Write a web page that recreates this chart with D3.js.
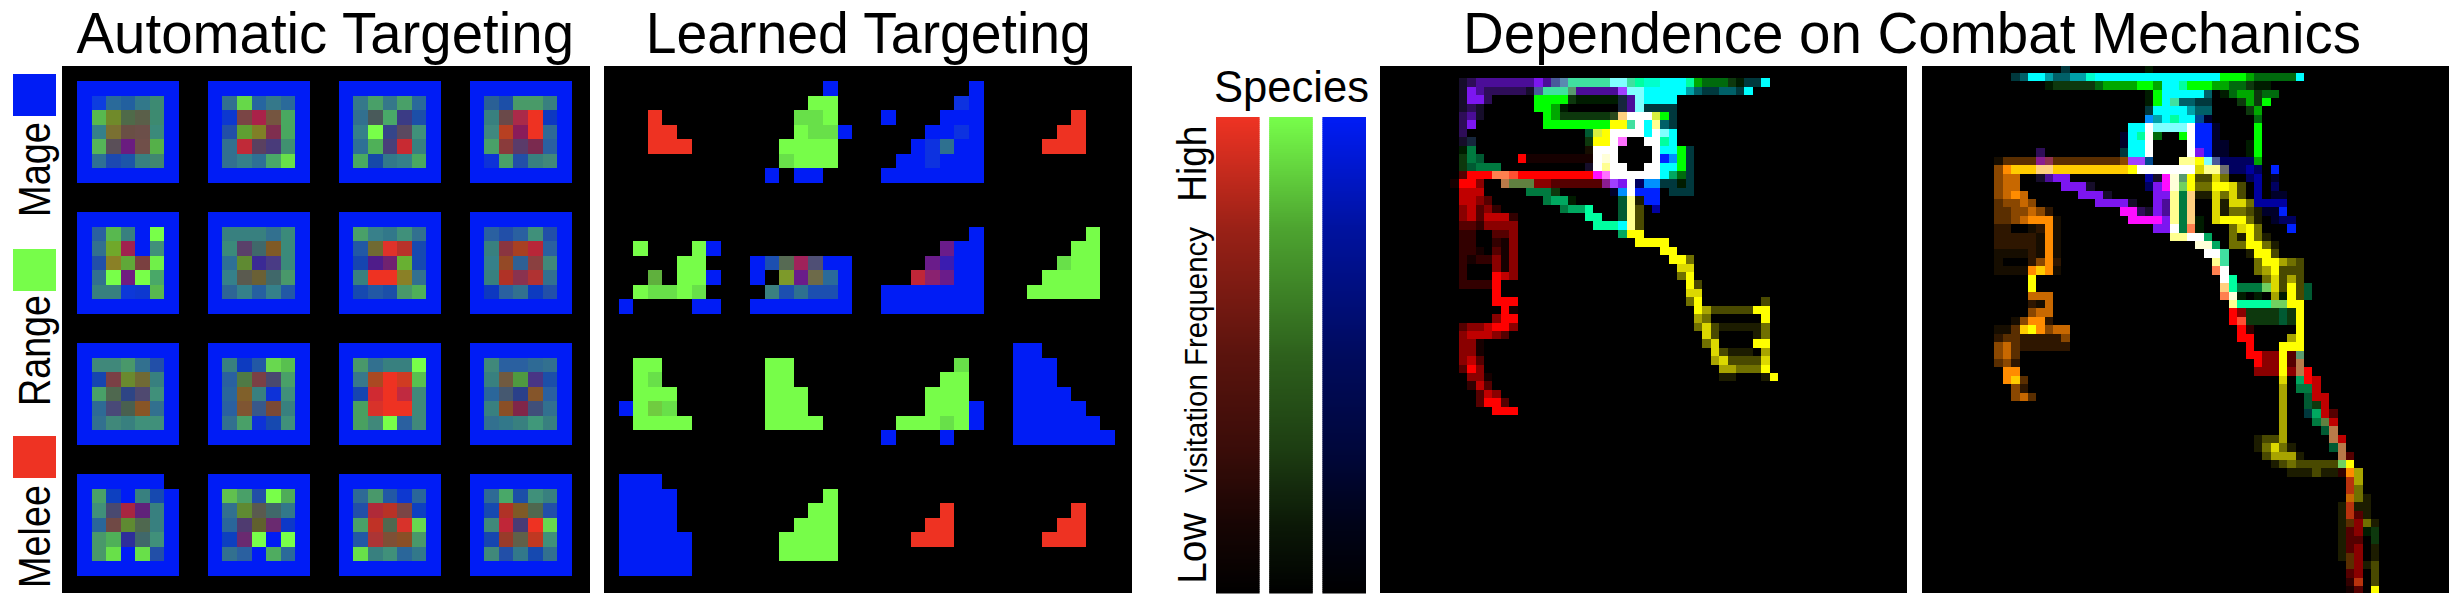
<!DOCTYPE html>
<html>
<head>
<meta charset="utf-8">
<script src="https://cdn.jsdelivr.net/npm/d3@7"></script>
<style>
  body { margin: 0; background: #fff; }
  text { font-family: "Liberation Sans", Arial, sans-serif; fill: #000; }
</style>
</head>
<body>
<svg id="chart" width="2454" height="596"></svg>
<script>
// Species and their colours
const species = ['Mage', 'Range', 'Melee'];
const speciesColors = ['#001cf5', '#77fd4a', '#ee3323'];
const barSpecies = ['Melee', 'Range', 'Mage'];

// Colour bar falloff (0 = top of the bar)
const barStops = [0, 0.23, 0.5, 0.7, 0.85, 1];
const barLevels = [1, 0.65, 0.38, 0.24, 0.1, 0];

// Automatic targeting: inner 5x5 cells of each 7x7 tile, row by row
const autoTiles = [
  '0a3de0 2a6a9a 24609f 33788a 3e8a72 58b850 6f8a2a 4f6a4a 5a5f4a 3e8a70 36808a 7a7030 6a4f45 6c4f48 3a8a7a 55b558 5a5058 6a1a80 70504a 55b048 2f6f95 1c4ab0 1f55a8 38807f 40876f',
  '33708f 66d84a 2866a0 35788a 2a6a9a 0a38d0 7a4545 aa2248 74543f 4aa860 2050a8 5f9f30 807f25 7f2f50 48a85f 30708f c02a38 5a4060 483a7a 40906f 30708f 36808a 2f6f95 48a868 68e048',
  '35788a 48a068 35788a 48a068 2a6a9a 30708f 4a5a5a 48a868 3a3a85 1f50a8 36808a 78ff48 35458a 5a4a60 40907a 2f6f95 50b058 4a3f7a c82a32 38807f 4aaa60 1848a8 33788a 36808a 48a860',
  '2a6095 1f50a8 489a68 489a68 38807f 38807f 6a4a4a aa2a48 ee3323 0f38c0 40887f b84020 8a1f5a ee3323 2f6a95 48a068 8a3a3a 5a3a6a 7a2a50 2a60a0 0a30d8 48a068 2050a8 38807f 40887a',
  '2a60a0 58b850 38807f 001cf5 78ff48 30708f 70a82a a02050 001cf5 40907a 2050a8 8a8025 60a838 7a4040 70f048 30708f 78ff48 701a80 78ff48 48a868 38807f 38807f 0a38d8 0a38d0 58b850',
  '38807f 38807f 38807f 33708f 3a8a7a 3a8a7a 5a3f6a 40686a 7f5a25 3a8a7a 2f6f95 5f8a30 3a2a95 483a85 3a8a7a 36808a 5a5a50 6a6035 40686a 48986a 2f6595 36808a 2860a0 36808a 2458a5',
  '48a068 38808a 33788a 40907a 33708f 2458a5 706a30 e0302a b8302a 1848b0 1844b0 501f8a 702070 68b030 1848b0 38807f ee3323 ee3323 8a8025 30708f 1848b0 2458a5 1f50a8 48986a 50b058',
  '2a60a0 2050a8 2a60a0 40907a 2050a8 38807f 8a3540 a84020 b82838 2a60a0 36808a 944a25 2f6095 8a4040 40887a 38807f b03028 8a3050 b03030 30708f 0f38c0 2a60a0 33708f 0f3ac0 2050a8',
  '40887a 40887a 48986a 33708f 2050a8 1844b0 7a4045 6a8a2f 6f6a35 38807f 48a068 50684f 2f4585 504a70 40907a 2f6a95 4a4a78 4a6050 885525 33708f 33708f 40887a 38807f 40907a 40907a',
  '38807f 0f3ac0 2458a5 68d850 58c050 2a60a0 507a45 7a4045 4a4a70 48a068 2a669a 80602a 38807f 0a30d8 40907a 2a60a0 7f5530 37588a 7a4a35 38807f 33708f 48a068 0a30d8 1848b0 40907a',
  '48986a 33708f 38807f 38807f 78ff48 38788a aa4a20 ee3323 d03a20 58c050 1844b0 d02a30 ee3323 c02a40 40887a 48a060 d8302a ee3323 ee3323 40887a 48a060 40887a 78ff48 2a60a0 40887a',
  '40887a 2a60a0 2a60a0 2f6a95 33708f 38807f 6f5a3f 509a3f 483585 1f50a8 2a669a 45586f 2a3f8a 85552a 2a60a0 38807f 8a5025 80284a 40507a 33708f 33708f 33788a 38807f 40987a 38807f',
  '48a068 1040c0 001cf5 38807f 1848b0 40907a 4a4a70 a8283f 60207a 38807f 2a669a 704a45 5f8a30 50684f 38807f 48986a 50b058 2f2f9a 40686a 40907a 48986a 68e048 001cf5 68e048 2050a8',
  '60c050 48a068 2050a8 78ff48 50ac58 30708f 5f8a30 5a5a50 40686a 33788a 2a669a 4f3a70 60602f 6a2a6f 0a38c8 1040c0 6a2a6f 78ff48 001cf5 78ff48 33708f 2a60a0 001cf5 50ac60 2a6a9a',
  '2f6a95 48986a 2458a5 0a38d0 2a669a 2050a8 b02a38 b83028 7a4545 0f40c0 48a068 c03028 50684f d8302a 68d850 2458a5 ac3535 7f5035 8a5025 48986a 68e048 38807f 40907a 2a669a 33788a',
  '2f6a95 48a868 1f50a8 40907a 38807f 1848b0 b03028 7f5a25 50684f 2050a8 40887a c02838 4a3a75 ee3323 68d850 1844b0 983a2a 60604a c03820 40907a 40887a 2050a8 33788a 1848b0 30708f'
];
// [tile, row, col] of the tile rim cells that stay black
const autoRimGaps = [[12, 0, 6]];

// Learned targeting: whole 36x36 image
const learnedColors = {
  R: '#ee3323', G: '#77fd4a', B: '#001cf5', a: '#68e048', c: '#5fb03c', s: '#70cc40', d: '#0a30e0',
  t: '#2f6f8f', p: '#6a1a8a', e: '#1e4fb0', f: '#566b52', h: '#a0245a', i: '#4f4f75', j: '#3a1ab0',
  k: '#7d9a2a', l: '#6d6a4a', m: '#2a6a9a', n: '#c02838', o: '#8a2070', q: '#3a8080'
};
const learnedRows = [
  '',
  '...............B.........B..........',
  '..............GG........dB..........',
  '...R.........aaG...B...BBB......R...',
  '...RR........GaaB.....BBdB.....RR...',
  '...RRR......GGGG.....BdtBB....RRR...',
  '............aGGG....BBdBBB..........',
  '...........B.BB....BBBBBBB..........',
  '',
  '',
  '',
  '.........................B.......G..',
  '..G...GB...............pBB......GG..',
  '.....GG...BefhiBB.....pjBB.....aGG..',
  '...c.GGB..B.kplmB....nopBB....GGGG..',
  '..GaaGa....qeteeB..BBBBBBB...GGGGG..',
  '.B....BB..BBBBBBB..BBBBBBB..........',
  '',
  '',
  '............................BB......',
  '..GG.......GG...........a...BBB.....',
  '..Ga.......GG..........GG...BBB.....',
  '..GGG......GGG........GGG...BBBB....',
  '.BGsa......GGG........GGGB..BBBBB...',
  '..GGGG.....GGGG.....GGGaGB..BBBBBB..',
  '...................B...B....BBBBBBB.',
  '',
  '',
  '.BBB................................',
  '.BBBB..........G....................',
  '.BBBB.........GG.......R........R...',
  '.BBBB........GGG......RR.......RR...',
  '.BBBBB......GGGG.....RRR......RRR...',
  '.BBBBB......GGGG....................',
  '.BBBBB..............................',
  ''
];

// Combat mechanics: visitation maps, one letter per cell
const visitColors = {
  u: '#16082a', v: '#2e0c58', p: '#4c1098', P: '#7c18f0', i: '#a040ff',
  c: '#00ffff', C: '#80ffff', k: '#00a0a8', d: '#006068', D: '#02383c', j: '#00ffcc',
  g: '#00ff00', G: '#00a800', h: '#006a10', H: '#083808', I: '#031a03',
  s: '#00a860', S: '#005a30', Z: '#007a40', t: '#40e0a0', T: '#00ffa0',
  w: '#ffffff', l: '#ffff90', L: '#ffffd8',
  y: '#ffff00', Y: '#dcd800', o: '#a8a400', O: '#707000', n: '#4a4a00', N: '#1c1c04',
  r: '#ff0000', R: '#c00000', e: '#8a0000', E: '#540000', f: '#300000', F: '#140000', U: '#ff5030',
  b: '#0024ff', B: '#0000a0', a: '#000060', A: '#0090ff', z: '#00002a', '+': '#004a90',
  m: '#ff10ff', M: '#ff70ff',
  x: '#ff8c00', X: '#c86800', W: '#8a4600', q: '#5a2e00', Q: '#2e1800', J: '#160c00',
  K: '#ffcc00', V: '#ffd080', '%': '#b83010',
  0: '#d8f040', 1: '#ff8050', 2: '#b87a48', 3: '#608040', 4: '#8a1a90', 5: '#4a5a9a',
  6: '#5a8ab0', 7: '#5a9a70', 8: '#14283c', 9: '#2a4a1a', '!': '#903050', '&': '#70d060', '#': '#707070'
};

const combatLeftRows = [
  '.uvpppppppPp56tttttCCtTjjcccTGhhhHIDDc',
  '.uPpvvvvvu5ttt7pppppiCCccccckdDDddDc',
  '.uPPv.....ggggHIIIII8pCcccc',
  '.uvu......ggGI......8pCDDDD',
  '.vpu.......gGHHHHHH9Vwww0gD',
  '.vP........ggggggggyytwcldD',
  '.v..............S0ywwwwcwCc',
  '.u8.............HyywM..wwTc',
  '.IZ.............Jwww....wccgD',
  '.HZS....rFFFFFFFFwLw....wbAgD',
  '.HSZZZ..........uwlww..wwccgD',
  '.Errr11UrrrrrrrrrmMwwwwwwcshD',
  'Frre..2333eeEEEEEE4iPwaAADDID',
  '.RRR.....ZZZH......zAwbbb.DDD',
  '.RReE......ZssI.....SlNbb',
  '.eREef.......ZssT...Sln.B',
  '.eRERRRf........TT..Sln',
  '.EEfeeee.........TTTcln',
  '.ff..EEe............syy',
  '.ff..fFe..............yyyy',
  '.ffF.EFe.................yy',
  '.fFffeFe..................yyO',
  '.f...eFe...................YY',
  '.f...rRe...................Oy',
  '.ffffr......................yn',
  '.....r......................YY',
  '.....rrr....................Oy.......n',
  '......rF.....................yonnnnnyy',
  '.....err.....................oO......y',
  '.EeeRrre.....................OYnNNNNNO',
  '.eRRReE.......................Yn....NO',
  '.eeF..........................OY....yy',
  '.eeF...........................YnNNN.o',
  '.eRE...........................oYnnnnY',
  '.Ere............................ooOOOy',
  '..eeF...........................NN...Ny',
  '..fRE',
  '...ERe',
  '...ErrE',
  '.....rrr'
];

const combatRightRows = [
  '........D.........I',
  '..DdcckddkkjcccccccccccccccgggGhhhhhc',
  '......IHHHHHhGGGGggGccTgggGGhhHII',
  '..................Igcccccd.IhGGHhh',
  '..................IgctddDD...HGHg',
  '..................Dcccckdd....HG',
  '..................AkcTcc+z.....h',
  '................ccwCCCCwbbz....g',
  '...............zcTwh..gwbbz....g',
  '...............zccw....wbbzz..Ig',
  '.....v.........Dccw....wPbzz..Ig',
  'Jqqqq4!qqqqqqqqWii+...llyC5aaaaG',
  'WxKKKVVKKKKKKKKKywwwwwwwYll#aaBa.b',
  'WXX..upPP.........BumL7ynnYO..aB.z',
  'WXX.....PPPu......aPmL&yOOyyYn.B.a',
  'WXxX......PPPu.....PPlZVNNYOYn.B.zz',
  'qWWXW.......PPPPu..PplZV..YNYYOBBBB',
  'qqWWXWQ........mmvuPplZV..YNOOnNzzb',
  'qqWXxxxJ........mmmmPlZVI.YyyyON.zaa',
  'QQ..JQxJ...........PPwZ1I...OYyO...b',
  'QQQQQJxJ.............llwws..ONyON',
  'QQQQQJxJ................LLs.OOyyON',
  'JJJJQJxJ.................wwt..Nyyn',
  'J...QWxQ..................lt...OyyoOn',
  'JJJJxKxJ..................1w...Ooynnn',
  '....y......................wT...OYnon',
  '....y......................VTZZZ&YnynS',
  '....XXX....................1LI.I.oIynS',
  '....QJX.....................lTTTT&&yy',
  '....WXX.....................reHHHHSHy',
  '..JWxxQ.....................rUHHHHSHy',
  'JJqKyxWXX....................rf.....y',
  'QqqQQQQQW....................rr....oy',
  'WXqQQQQQQ.....................r...yyy',
  'WXq...........................rreeyE7',
  'qWQ............................reeyE2',
  '.xx............................eeeye2r',
  '.xKq..............................Y.srR',
  '..WQ..............................o.ZZR',
  '..WXq.............................o..SRR',
  '..................................o..SHR',
  '..................................o..DsRE',
  '..................................o...Z3R',
  '..................................o....S2',
  '...............................Nnno.....2R',
  '...............................NOYON....S2',
  '................................noooN....2E',
  '.................................NnOnnnnn&y',
  '...................................NNNnNNfxo',
  '..........................................%o',
  '..........................................%O',
  '..........................................XON',
  '.........................................N%NN',
  '.........................................N%EN',
  '.........................................NqeON',
  '.........................................NEeIH',
  '.........................................NEE.H',
  '.........................................NEe.N',
  '.........................................Nqe.N',
  '..........................................qeNn',
  '..........................................Ee.n',
  '..........................................f%.n',
  '..........................................FE.y'
];

const svg = d3.select('#chart');

// Blur filter: the image panels in the figure are slightly resampled
svg.append('defs').append('filter')
  .attr('id', 'soft')
  .attr('filterUnits', 'userSpaceOnUse')
  .attr('x', 0).attr('y', 0).attr('width', 2454).attr('height', 596)
  .append('feGaussianBlur')
  .attr('stdDeviation', 0.45);

// Black background of a panel
function addPanel(id, x0, x1) {
  svg.append('rect')
    .attr('x', x0).attr('y', 66)
    .attr('width', x1 - x0).attr('height', 527)
    .attr('fill', '#000');
  svg.append('clipPath').attr('id', id)
    .append('rect')
    .attr('x', x0).attr('y', 66)
    .attr('width', x1 - x0).attr('height', 527);
  return svg.append('g')
    .attr('clip-path', `url(#${id})`)
    .append('g')
    .attr('filter', 'url(#soft)');
}

function bandScale(count, start, step) {
  return d3.scaleBand()
    .domain(d3.range(count))
    .range([start, start + count * step]);
}

function drawCells(group, cells, x, y) {
  group.selectAll('rect')
    .data(cells)
    .enter()
    .append('rect')
    .attr('x', d => x(d.col))
    .attr('y', d => y(d.row))
    .attr('width', x.bandwidth())
    .attr('height', y.bandwidth())
    .attr('fill', d => d.color)
    .attr('shape-rendering', 'crispEdges');
}

// Turn letter rows into a list of cells
function lettersToCells(rows, colors) {
  const cells = [];
  rows.forEach((line, row) => {
    Array.from(line).forEach((ch, col) => {
      if (ch !== '.') cells.push({ row, col, color: colors[ch] });
    });
  });
  return cells;
}

// Automatic targeting
const tileCells = [];
autoTiles.forEach((tile, t) => {
  const top = 1 + 9 * Math.floor(t / 4);
  const left = 1 + 9 * (t % 4);
  const inner = tile.split(' ');
  d3.range(7).forEach(r => {
    d3.range(7).forEach(c => {
      const isInner = r > 0 && r < 6 && c > 0 && c < 6;
      const isGap = autoRimGaps.some(g => g[0] === t && g[1] === r && g[2] === c);
      if (isGap) return;
      tileCells.push({
        row: top + r,
        col: left + c,
        color: isInner ? '#' + inner[(r - 1) * 5 + (c - 1)] : speciesColors[0]
      });
    });
  });
});
drawCells(addPanel('clip-auto', 62, 590), tileCells, bandScale(36, 62.4, 14.55), bandScale(36, 66.44, 14.56));

// Learned targeting
drawCells(addPanel('clip-learned', 604, 1132), lettersToCells(learnedRows, learnedColors),
  bandScale(36, 604, 14.6), bandScale(36, 66.44, 14.56));

// Combat mechanics maps
drawCells(addPanel('clip-left', 1380, 1907), lettersToCells(combatLeftRows, visitColors),
  bandScale(40, 1450.4, 8.4), bandScale(combatLeftRows.length, 78.33, 8.42));
drawCells(addPanel('clip-right', 1922, 2449), lettersToCells(combatRightRows, visitColors),
  bandScale(48, 1994.4, 8.37), bandScale(combatRightRows.length, 64.25, 8.42));

// Species swatches on the left
const swatchY = d3.scaleOrdinal().domain(species).range([74, 249, 436]);
const swatchColor = d3.scaleOrdinal().domain(species).range(speciesColors);
svg.selectAll('.swatch')
  .data(species)
  .enter()
  .append('rect')
  .attr('class', 'swatch')
  .attr('x', 13)
  .attr('y', d => swatchY(d))
  .attr('width', 43)
  .attr('height', 42)
  .attr('fill', d => swatchColor(d));

// Colour bars
const barX = d3.scaleBand().domain(barSpecies).range([1216, 1366]).paddingInner(0.18);
const barY = d3.scaleLinear().domain([0, 1]).range([117, 593]);
const level = d3.scaleLinear().domain(barStops).range(barLevels);
const barSteps = d3.range(0, 1, 1 / 238);
barSpecies.forEach(name => {
  const base = d3.rgb(swatchColor(name));
  svg.append('g').selectAll('rect')
    .data(barSteps)
    .enter()
    .append('rect')
    .attr('x', barX(name))
    .attr('y', d => barY(d))
    .attr('width', barX.bandwidth())
    .attr('height', barY(1 / 238) - barY(0) + 0.5)
    .attr('fill', d => {
      const l = level(d);
      return d3.rgb(base.r * l, base.g * l, base.b * l).formatHex();
    });
});

// Titles
const titles = [
  { text: 'Automatic Targeting', x: 76.5, width: 497.5 },
  { text: 'Learned Targeting', x: 645.8, width: 445 },
  { text: 'Dependence on Combat Mechanics', x: 1463, width: 898 }
];
svg.selectAll('.title')
  .data(titles)
  .enter()
  .append('text')
  .attr('class', 'title')
  .attr('x', d => d.x)
  .attr('y', 52.5)
  .attr('font-size', 57)
  .attr('textLength', d => d.width)
  .attr('lengthAdjust', 'spacingAndGlyphs')
  .text(d => d.text);

svg.append('text')
  .attr('x', 1214)
  .attr('y', 101.5)
  .attr('font-size', 44)
  .attr('textLength', 155)
  .attr('lengthAdjust', 'spacingAndGlyphs')
  .text('Species');

// Rotated labels
const sideLabels = [
  { text: 'Mage', x: 49.8, y: 217, size: 44, length: 95 },
  { text: 'Range', x: 49.8, y: 406, size: 44, length: 111 },
  { text: 'Melee', x: 49.8, y: 588, size: 44, length: 103 },
  { text: 'High', x: 1206, y: 201.7, size: 40, length: 76 },
  { text: 'Visitation Frequency', x: 1206.5, y: 493, size: 32, length: 266 },
  { text: 'Low', x: 1206, y: 583.7, size: 40, length: 71 }
];
svg.selectAll('.side')
  .data(sideLabels)
  .enter()
  .append('text')
  .attr('class', 'side')
  .attr('transform', d => `translate(${d.x},${d.y}) rotate(-90)`)
  .attr('font-size', d => d.size)
  .attr('textLength', d => d.length)
  .attr('lengthAdjust', 'spacingAndGlyphs')
  .text(d => d.text);
</script>
</body>
</html>
